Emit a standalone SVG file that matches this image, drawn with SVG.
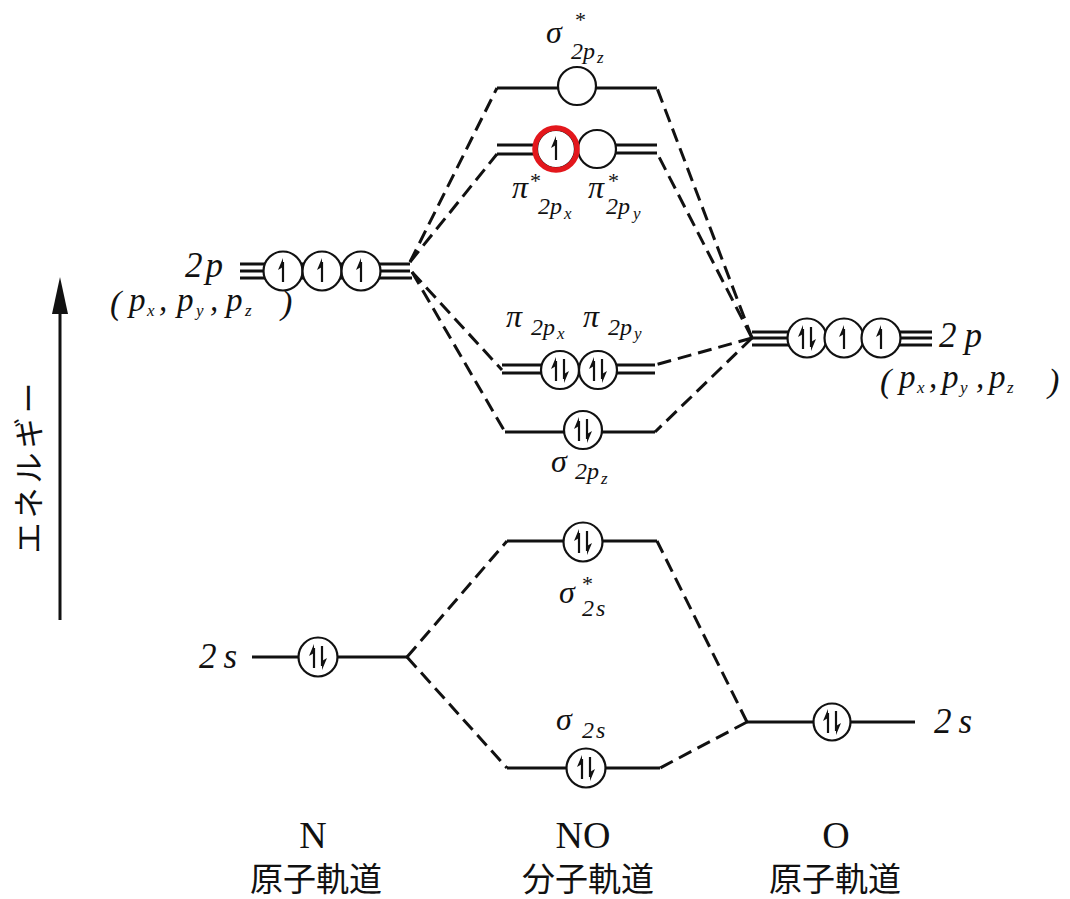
<svg xmlns="http://www.w3.org/2000/svg" xmlns:xlink="http://www.w3.org/1999/xlink" width="1070" height="899" viewBox="0 0 1070 899">
<style>
.lv{stroke:#111;stroke-width:3;fill:none}
.ds{stroke:#111;stroke-width:3;fill:none;stroke-dasharray:14 7}
.orb{stroke:#111;stroke-width:2.2;fill:#fff}
.m{font-family:"Liberation Serif","DejaVu Serif",serif;font-style:italic;fill:#111}
.big{font-size:35px}
.gr{font-size:32px}
.sub{font-size:24px}
.ss{font-size:17px}
.pp{font-size:33px}
.pr{font-size:34px}
.st{font-family:"Liberation Serif",serif;font-size:22px;fill:#111}
.cap{font-family:"Liberation Serif","DejaVu Serif",serif;font-size:38px;fill:#111;text-anchor:middle}
.jp{font-family:"Noto Sans CJK JP","Noto Sans CJK SC",sans-serif;font-size:33px;fill:#111;text-anchor:middle}
</style>
<defs>
<g id="eu"><path d="M0,11 V-9" stroke="#111" stroke-width="2.2"/><polygon points="0,-13 -5,-1 0,-4" fill="#111"/></g>
<g id="ed"><path d="M0,-11 V9" stroke="#111" stroke-width="2.2"/><polygon points="0,13 5,1 0,4" fill="#111"/></g>
<g id="pair"><use xlink:href="#eu" x="-4"/><use xlink:href="#ed" x="4"/></g>
</defs>
<rect width="1070" height="899" fill="#fff"/>

<g id="connectors">
<path class="ds" d="M410,262 L497,88"/>
<path class="ds" d="M410,262 L497,154"/>
<path class="ds" d="M412,272 L502,370"/>
<path class="ds" d="M412,272 L505,432"/>
<path class="ds" d="M752,338 L657,88"/>
<path class="ds" d="M752,338 L657,153"/>
<path class="ds" d="M752,338 L655,365"/>
<path class="ds" d="M752,338 L655,432"/>
<path class="ds" d="M407,657 L507,541"/>
<path class="ds" d="M407,657 L507,768"/>
<path class="ds" d="M747,722 L657,541"/>
<path class="ds" d="M747,722 L660,768"/>
</g>

<g id="axis">
<path d="M60,620 V300" stroke="#111" stroke-width="3"/>
<polygon points="60,277 52,314 68,314" fill="#111"/>
<text transform="translate(40,466) rotate(-90)" font-family="Noto Sans CJK JP,sans-serif" font-size="31" letter-spacing="4" text-anchor="middle" fill="#111">エネルギー</text>
</g>

<g id="N2p">
<path class="lv" d="M240,264 H410 M240,271 H410 M240,278 H412"/>
<circle class="orb" cx="283" cy="271" r="19.5"/>
<circle class="orb" cx="322" cy="271" r="19.5"/>
<circle class="orb" cx="361" cy="271" r="19.5"/>
<use xlink:href="#eu" x="283" y="271"/>
<use xlink:href="#eu" x="322" y="271"/>
<use xlink:href="#eu" x="361" y="271"/>
<text class="m big" x="185" y="277">2<tspan dx="3">p</tspan></text>
<g class="m">
<text class="pr" x="110" y="314">(</text>
<text class="pp" x="129" y="311">p</text>
<text class="ss" x="147" y="316">x</text>
<text class="pp" x="159" y="311">,</text>
<text class="pp" x="177" y="311">p</text>
<text class="ss" x="196" y="316">y</text>
<text class="pp" x="210" y="311">,</text>
<text class="pp" x="226" y="311">p</text>
<text class="ss" x="245" y="316">z</text>
<text class="pr" x="281" y="314">)</text>
</g>
</g>

<g id="O2p">
<path class="lv" d="M752,332 H790 M752,338 H790 M752,345 H790 M898,332 H932 M898,338 H932 M898,345 H932"/>
<circle class="orb" cx="807" cy="338" r="19.5"/>
<circle class="orb" cx="844" cy="338" r="19.5"/>
<circle class="orb" cx="881" cy="338" r="19.5"/>
<use xlink:href="#pair" x="807" y="338"/>
<use xlink:href="#eu" x="844" y="338"/>
<use xlink:href="#eu" x="881" y="338"/>
<text class="m big" x="939" y="347">2<tspan dx="8">p</tspan></text>
<g class="m">
<text class="pr" x="880" y="392">(</text>
<text class="pp" x="899" y="388">p</text>
<text class="ss" x="917" y="393">x</text>
<text class="pp" x="929" y="388">,</text>
<text class="pp" x="942" y="388">p</text>
<text class="ss" x="960" y="393">y</text>
<text class="pp" x="976" y="388">,</text>
<text class="pp" x="989" y="388">p</text>
<text class="ss" x="1007" y="393">z</text>
<text class="pr" x="1048" y="392">)</text>
</g>
</g>

<g id="sigmaStar2pz">
<path class="lv" d="M497,88 H657"/>
<circle class="orb" cx="577" cy="86" r="19"/>
<text class="m gr" x="546" y="43">σ</text>
<text class="st" x="575" y="27">*</text>
<text class="m sub" x="571" y="59">2p</text>
<text class="m ss" x="597" y="63">z</text>
</g>

<g id="piStar">
<path class="lv" d="M497,145 H540 M497,154 H540 M614,145 H657 M614,153 H657"/>
<circle class="orb" cx="556" cy="149" r="19"/>
<circle class="orb" cx="597" cy="149" r="19"/>
<use xlink:href="#eu" x="556" y="149"/>
<circle cx="556" cy="149" r="21" fill="none" stroke="#e3171c" stroke-width="5.5"/>
<text class="m gr" x="512" y="198">π</text>
<text class="st" x="530" y="188">*</text>
<text class="m sub" x="538" y="214">2p</text>
<text class="m ss" x="564" y="219">x</text>
<text class="m gr" x="588" y="198">π</text>
<text class="st" x="608" y="188">*</text>
<text class="m sub" x="606" y="214">2p</text>
<text class="m ss" x="633" y="219">y</text>
</g>

<g id="pi2p">
<path class="lv" d="M502,365 H542 M502,373 H542 M616,365 H655 M616,373 H655"/>
<circle class="orb" cx="560" cy="370" r="19"/>
<circle class="orb" cx="598" cy="370" r="19"/>
<use xlink:href="#pair" x="560" y="370"/>
<use xlink:href="#pair" x="598" y="370"/>
<text class="m gr" x="506" y="327">π</text>
<text class="m sub" x="531" y="335">2p</text>
<text class="m ss" x="557" y="339">x</text>
<text class="m gr" x="583" y="327">π</text>
<text class="m sub" x="608" y="335">2p</text>
<text class="m ss" x="634" y="339">y</text>
</g>

<g id="sigma2pz">
<path class="lv" d="M505,432 H655"/>
<circle class="orb" cx="583" cy="430" r="19"/>
<use xlink:href="#pair" x="583" y="430"/>
<text class="m gr" x="551" y="472">σ</text>
<text class="m sub" x="575" y="479">2p</text>
<text class="m ss" x="601" y="484">z</text>
</g>

<g id="N2s">
<path class="lv" d="M252,657 H407"/>
<circle class="orb" cx="318" cy="657" r="19.5"/>
<use xlink:href="#pair" x="318" y="657"/>
<text class="m big" x="199" y="668">2<tspan dx="7">s</tspan></text>
</g>

<g id="sigmaStar2s">
<path class="lv" d="M507,541 H657"/>
<circle class="orb" cx="583" cy="542" r="19.5"/>
<use xlink:href="#pair" x="583" y="542"/>
<text class="m gr" x="559" y="603">σ</text>
<text class="st" x="582" y="591">*</text>
<text class="m sub" x="582" y="616">2<tspan dx="2">s</tspan></text>
</g>

<g id="sigma2s">
<path class="lv" d="M507,768 H660"/>
<circle class="orb" cx="586" cy="768" r="19.5"/>
<use xlink:href="#pair" x="586" y="768"/>
<text class="m gr" x="556" y="730">σ</text>
<text class="m sub" x="582" y="738">2<tspan dx="2">s</tspan></text>
</g>

<g id="O2s">
<path class="lv" d="M747,722 H915"/>
<circle class="orb" cx="832" cy="722" r="18.5"/>
<use xlink:href="#pair" x="832" y="722"/>
<text class="m big" x="934" y="733">2<tspan dx="7">s</tspan></text>
</g>

<g id="labels">
<text class="cap" x="313" y="848">N</text>
<text class="jp" x="316" y="891">原子軌道</text>
<text class="cap" x="583" y="848">NO</text>
<text class="jp" x="588" y="891">分子軌道</text>
<text class="cap" x="836" y="848">O</text>
<text class="jp" x="835" y="891">原子軌道</text>
</g>
</svg>
